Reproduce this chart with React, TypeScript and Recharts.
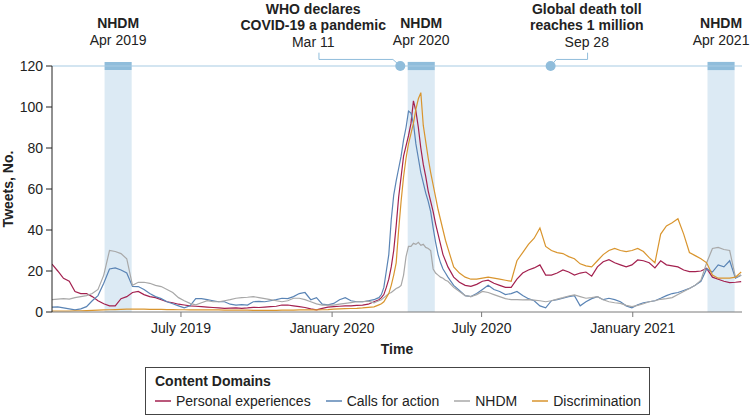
import React from 'react';
import { LineChart, Line, XAxis, YAxis, ReferenceArea, ReferenceLine, ReferenceDot, Legend } from 'recharts';

// Days since 2019-01-01
const dayOffsets = [
  24, 31, 38, 45, 52, 59, 66, 73, 80, 87, 94, 101, 108, 115, 122, 129, 136, 143, 150, 157,
  164, 171, 178, 185, 192, 199, 206, 213, 220, 227, 234, 241, 248, 255, 262, 269, 276, 283, 290, 297,
  304, 311, 318, 325, 332, 339, 346, 353, 360, 367, 374, 381, 388, 395, 402, 409,
  416, 419, 422, 425, 428, 431, 434, 437, 440, 443, 446, 449, 452, 455, 458, 461, 464, 467, 470, 473,
  476, 479, 482, 485, 488, 491, 494, 497, 500, 503, 506,
  513, 520, 527, 534, 541, 548, 555, 562, 569, 576, 583, 590, 597, 604, 611, 618, 625, 632, 639, 646,
  653, 660, 667, 674, 681, 688, 695, 702, 709, 716, 723, 730, 737, 744, 751, 758, 765, 772, 779, 786,
  793, 800, 807, 814, 821, 828, 835, 842, 849, 856, 863,
];

const personalExperiences = [
  23.4, 20, 16.4, 15, 10, 9, 9, 7.5, 5.5, 4, 3, 3, 6.5, 7.5, 9.5, 10, 8.5, 7.5, 7, 6,
  5, 4.5, 3.8, 3.4, 3, 2.8, 2.6, 2.4, 2.2, 2, 1.8, 1.9, 2, 1.8, 2, 2.3, 2.2, 2.4, 2.6, 2.8,
  3.4, 3.4, 3, 2.6, 2.2, 1.5, 1, 1.8, 2.4, 2.6, 2.8, 3, 3, 3.2, 3.4, 3.8,
  5, 5.5, 6, 7, 8.5, 12, 16, 22, 30, 42, 56, 66, 76, 81, 86, 92, 103, 98, 90, 80,
  72, 66, 59, 54, 49, 43, 38, 33, 28, 25, 22,
  17, 14.5, 13, 12.5, 13.5, 15, 15.5, 14, 13, 12, 12, 16, 19, 20.5, 21.5, 23, 18, 18, 19, 20.5,
  19.5, 18, 19, 19.5, 17.5, 22, 24.5, 25.5, 24, 23, 22, 23, 25.4, 25, 24, 21.5, 25, 23, 22.5, 22,
  20.5, 19.7, 19.7, 20, 21.3, 17, 16, 15, 14.3, 14.5, 14.8,
];

const callsForAction = [
  2.4, 2.5, 2, 1.5, 1, 1.5, 2.6, 5.5, 8, 14, 21, 21.5, 20.5, 19, 12.5, 12.4, 11, 9, 7.5, 6.5,
  5, 4, 3, 2, 3, 6.5, 6.5, 6, 5.5, 5, 5, 3.8, 3.4, 3.6, 3.4, 5, 5.2, 5, 5.5, 6,
  6.7, 6.5, 7.5, 9, 9.5, 6, 7, 3.8, 3.5, 4.2, 6, 7, 5.5, 5, 5, 5.5,
  6, 6.5, 7, 8.5, 12, 20, 28, 45, 57, 64, 70, 76, 84, 90, 98, 97, 92, 82, 75, 68,
  63, 58, 54, 49, 41, 34, 28, 24, 21, 19, 17,
  13, 10.5, 8, 7.5, 9, 11, 13, 11, 10, 8.5, 9, 10, 8, 6.5, 5.5, 3, 2, 5.5, 6, 6.7,
  7.5, 8, 3, 5, 6.5, 7.5, 6, 6.7, 6, 5, 3, 2, 3.5, 4.5, 5, 5.5, 6.7, 8, 9, 9.5,
  10.5, 11.5, 13, 15, 21, 19.5, 23, 22, 25, 16.5, 18,
];

const nhdm = [
  6, 6.3, 6.5, 6.3, 7, 7.5, 8, 9, 11, 18, 30, 29.5, 28.5, 26, 13, 14.5, 14.5, 14, 13, 12.4,
  11, 9.5, 7, 5.5, 4.2, 3.5, 4.5, 5.5, 5, 5, 5.5, 6, 6.7, 7, 7.2, 7.5, 7, 6.5, 6, 5.5,
  5, 5.5, 6.7, 6.7, 6, 5, 4, 3.4, 3.4, 3.4, 3.8, 4.2, 4.6, 5, 5, 5.3,
  4.5, 5, 5.5, 6, 7, 8, 9, 9.5, 10.5, 11.5, 12, 13, 18, 27, 32, 32, 33.5, 33, 34, 32.5,
  33, 31.5, 31, 30, 21, 19, 18, 17, 16.5, 15.5, 15,
  12, 10, 8, 7.5, 8.5, 10, 9.5, 8.5, 7.5, 6.5, 6, 6, 5.9, 6, 5.8, 5.5, 5, 5.5, 6.3, 7,
  7.8, 8.3, 7.5, 6.7, 7, 7.5, 6, 5, 4.5, 4.2, 3.2, 2.6, 3.2, 4, 5, 5.5, 6.2, 6.5, 7, 8.5,
  10, 11.5, 13, 15.5, 24, 31, 31.5, 30.5, 30, 17, 18,
];

const discrimination = [
  0.5, 0.5, 0.5, 0.5, 0.6, 0.6, 0.7, 0.8, 0.9, 1, 1.1, 1.2, 1.3, 1.4, 1.4, 1.4, 1.4, 1.3, 1.3, 1.3,
  1.2, 1.2, 1.1, 1.1, 1, 1, 1, 1, 1, 1, 0.9, 0.9, 0.9, 0.9, 0.9, 0.8, 0.8, 0.8, 0.8, 0.8,
  0.9, 0.9, 0.9, 1, 1, 1, 1, 1.1, 1.2, 1.4, 1.5, 1.6, 1.7, 1.8, 2, 2.3,
  2.5, 3, 3.5, 4, 5, 7, 9, 13, 18, 24, 40, 54, 66, 75, 82, 87, 92, 99, 104, 107,
  91, 83, 75, 68, 62, 56, 50, 45, 40, 35, 31,
  22, 19, 17, 16, 16, 16.5, 17, 16.5, 16, 15.5, 15, 25, 29, 33, 36, 41, 32, 30, 29, 28.5,
  27, 26, 23.5, 22.5, 22, 25, 28, 30, 31, 30, 29.5, 30, 31, 29.5, 26.5, 24, 38, 42, 43.5, 45.5,
  38, 29, 27.5, 26, 24, 18, 16.5, 16.5, 16.5, 17, 19.5,
];

const xTickDays = [181, 365, 547, 731];
const xTickLabels = ['July 2019', 'January 2020', 'July 2020', 'January 2021'];
const yTicks = [0, 20, 40, 60, 80, 100, 120];

const nhdmStart = [88, 457, 822];
const nhdmEnd = [121, 490, 855];
const nhdmLabels = ['Apr 2019', 'Apr 2020', 'Apr 2021'];

const eventDotDays = [448, 631];
const eventLabelDays = [342, 675];
const eventStemDays = [349, 676];
const eventElbowDays = [439, 638];
const eventTitles = [
  ['WHO declares', 'COVID-19 a pandemic'],
  ['Global death toll', 'reaches 1 million'],
];
const eventDates = ['Mar 11', 'Sep 28'];

const seriesInfo = [
  { key: 'personal', name: 'Personal experiences', color: '#a3214f' },
  { key: 'calls', name: 'Calls for action', color: '#5a84b5' },
  { key: 'nhdm', name: 'NHDM', color: '#a8a8a8' },
  { key: 'discrimination', name: 'Discrimination', color: '#d9952e' },
];

const rows = dayOffsets.map((d, i) => ({
  day: d,
  personal: personalExperiences[i],
  calls: callsForAction[i],
  nhdm: nhdm[i],
  discrimination: discrimination[i],
}));

const FONT = '"Liberation Sans", Arial, Helvetica, sans-serif';
const BAND_LIGHT = '#dceaf4';
const BAND_DARK = '#90bddb';
const REF_BLUE = '#a8cce4';

const makeNhdmLabel = (sub: string) => (props: any) => {
  const vb = props.viewBox || {};
  const cx = vb.x + vb.width / 2;
  const top = vb.y;
  return (
    <g>
      <text x={cx} y={top - 33.5} textAnchor="middle" fontFamily={FONT} fontSize={14} fontWeight="bold" fill="#222">NHDM</text>
      <text x={cx} y={top - 16.5} textAnchor="middle" fontFamily={FONT} fontSize={14} fill="#222">{sub}</text>
    </g>
  );
};

const makeEventLabel = (lines: string[], date: string) => (props: any) => {
  const vb = props.viewBox || {};
  const cx = vb.x;
  const top = vb.y;
  return (
    <g>
      <text x={cx} y={top - 52.5} textAnchor="middle" fontFamily={FONT} fontSize={14} fontWeight="bold" fill="#222">{lines[0]}</text>
      <text x={cx} y={top - 36} textAnchor="middle" fontFamily={FONT} fontSize={14} fontWeight="bold" fill="#222">{lines[1]}</text>
      <text x={cx} y={top - 19.5} textAnchor="middle" fontFamily={FONT} fontSize={14} fill="#222">{date}</text>
    </g>
  );
};

const YLabel = (props: any) => {
  const vb = props.viewBox || {};
  const x = vb.x + 13;
  const y = vb.y + vb.height / 2;
  return (
    <text x={x} y={y} transform={`rotate(-90, ${x}, ${y})`} textAnchor="middle" fontFamily={FONT} fontSize={14} fontWeight="bold" fill="#222">
      Tweets, No.
    </text>
  );
};

const XLabel = (props: any) => {
  const vb = props.viewBox || {};
  return (
    <text x={vb.x + vb.width / 2} y={vb.y + 42} textAnchor="middle" fontFamily={FONT} fontSize={14} fontWeight="bold" fill="#222">
      Time
    </text>
  );
};

const LegendBox = () => (
  <div
    style={{
      boxSizing: 'border-box',
      width: 505,
      height: 48,
      border: '1px solid #444',
      padding: '4px 9px',
      fontFamily: FONT,
      fontSize: 14,
      color: '#222',
      lineHeight: '18px',
      textAlign: 'left',
      background: '#fff',
    }}
  >
    <div style={{ fontWeight: 'bold' }}>Content Domains</div>
    <div style={{ display: 'flex', alignItems: 'center', whiteSpace: 'nowrap', marginTop: 2 }}>
      {seriesInfo.map((s, i) => (
        <div key={s.key} style={{ display: 'flex', alignItems: 'center', marginRight: i < seriesInfo.length - 1 ? 15 : 0 }}>
          <svg width={16} height={4} style={{ marginRight: 5 }}>
            <line x1={0} y1={2} x2={16} y2={2} stroke={s.color} strokeWidth={1.5} />
          </svg>
          <span>{s.name}</span>
        </div>
      ))}
    </div>
  </div>
);

export default function App() {
  return (
    <div style={{ position: 'absolute', left: 0, top: 0, width: 750, height: 416, background: '#fff' }}>
      <LineChart
        width={750}
        height={416}
        data={rows}
        margin={{ top: 66, right: 8, bottom: 0, left: 0 }}
        style={{ fontFamily: FONT }}
      >
        {nhdmStart.map((s, i) => (
          <ReferenceArea key={`band-${i}`} x1={s} x2={nhdmEnd[i]} y1={0} y2={118} fill={BAND_LIGHT} fillOpacity={1} stroke="none" ifOverflow="visible" />
        ))}
        <XAxis
          type="number"
          dataKey="day"
          domain={[24, 864]}
          ticks={xTickDays}
          tickFormatter={(v: number) => xTickLabels[xTickDays.indexOf(v)] || ''}
          tick={{ fill: '#222', fontSize: 14, fontFamily: FONT }}
          tickSize={5}
          tickMargin={6}
          axisLine={{ stroke: '#7a7a7a' }}
          tickLine={{ stroke: '#7a7a7a' }}
          height={104}
          allowDataOverflow
          label={<XLabel />}
        />
        <YAxis
          type="number"
          domain={[0, 120]}
          ticks={yTicks}
          tick={{ fill: '#222', fontSize: 14, fontFamily: FONT }}
          tickSize={6}
          tickMargin={3}
          axisLine={{ stroke: '#222' }}
          tickLine={{ stroke: '#222' }}
          width={52}
          allowDataOverflow
          label={<YLabel />}
        />
        {seriesInfo.map((s) => (
          <Line
            key={s.key}
            type="linear"
            dataKey={s.key}
            name={s.name}
            stroke={s.color}
            strokeWidth={1.2}
            dot={false}
            activeDot={false}
            isAnimationActive={false}
          />
        ))}
        <ReferenceLine y={120} stroke={REF_BLUE} strokeWidth={1.2} />
        {nhdmStart.map((s, i) => (
          <ReferenceArea
            key={`bandtop-${i}`}
            x1={s}
            x2={nhdmEnd[i]}
            y1={118}
            y2={122}
            fill={BAND_DARK}
            fillOpacity={1}
            stroke="none"
            ifOverflow="visible"
            label={makeNhdmLabel(nhdmLabels[i])}
          />
        ))}
        {eventDotDays.map((d, i) => (
          <ReferenceLine
            key={`stem-${i}`}
            segment={[{ x: eventStemDays[i], y: 126.5 }, { x: eventStemDays[i], y: 123.2 }]}
            stroke={BAND_DARK}
            strokeWidth={1}
            ifOverflow="visible"
          />
        ))}
        {eventDotDays.map((d, i) => (
          <ReferenceLine
            key={`arm-${i}`}
            segment={[{ x: eventStemDays[i], y: 123.2 }, { x: eventElbowDays[i], y: 123.2 }]}
            stroke={BAND_DARK}
            strokeWidth={1}
            ifOverflow="visible"
          />
        ))}
        {eventDotDays.map((d, i) => (
          <ReferenceLine
            key={`diag-${i}`}
            segment={[{ x: eventElbowDays[i], y: 123.2 }, { x: d, y: 120 }]}
            stroke={BAND_DARK}
            strokeWidth={1}
            ifOverflow="visible"
          />
        ))}
        {eventDotDays.map((d, i) => (
          <ReferenceDot key={`dot-${i}`} x={d} y={120} r={5} fill={BAND_DARK} stroke="none" ifOverflow="visible" />
        ))}
        {eventLabelDays.map((d, i) => (
          <ReferenceLine key={`evlabel-${i}`} x={d} stroke="none" label={makeEventLabel(eventTitles[i], eventDates[i])} />
        ))}
        <Legend
          layout="vertical"
          align="center"
          verticalAlign="middle"
          wrapperStyle={{ left: 145, top: 367, width: 505, height: 48 }}
          content={() => <LegendBox />}
        />
      </LineChart>
    </div>
  );
}
